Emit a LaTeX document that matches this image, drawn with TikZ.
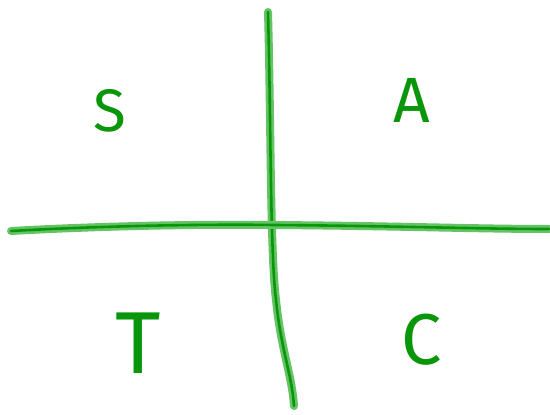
\documentclass[tikz,border=0pt]{standalone}
\usepackage{fontspec}
\setmainfont{Fira Sans}
\usetikzlibrary{calc,positioning}
\definecolor{penGreen}{RGB}{10,150,10}
\definecolor{haloGreen}{RGB}{100,195,100}
\tikzset{
  axis/.style={draw=penGreen, line width=2.6pt, line cap=round, line join=round,
    preaction={draw=haloGreen, line width=8pt, line cap=round, line join=round}},
  letter/.style={text=penGreen, inner sep=0pt},
}

\begin{document}
\begin{tikzpicture}[x=1pt, y=-1pt]
\useasboundingbox (0,0) rectangle (550,415);
\coordinate (top) at (268,12);
\coordinate (bottom) at (294,406);
\coordinate (left) at (11,231);
\coordinate (right) at (549,229);

\draw[axis] (top) .. controls (271,120) and (270,250) .. (276,300)
  .. controls (281,350) and (292,375) .. (bottom);
\draw[axis] (left) .. controls (100,226) and (200,224) .. (275,225)
  .. controls (400,226) and (480,229) .. (right);

\node[letter, font=\fontsize{60}{60}\selectfont] (S) at (110,111) {S};
\node[letter, font=\fontsize{64}{64}\selectfont] (A) at (412,100) {A};
\node[letter, font=\fontsize{88}{88}\selectfont] (T) at (138,343) {T};
\node[letter, font=\fontsize{72}{72}\selectfont] (C) at (422,340) {C};
\end{tikzpicture}
\end{document}
